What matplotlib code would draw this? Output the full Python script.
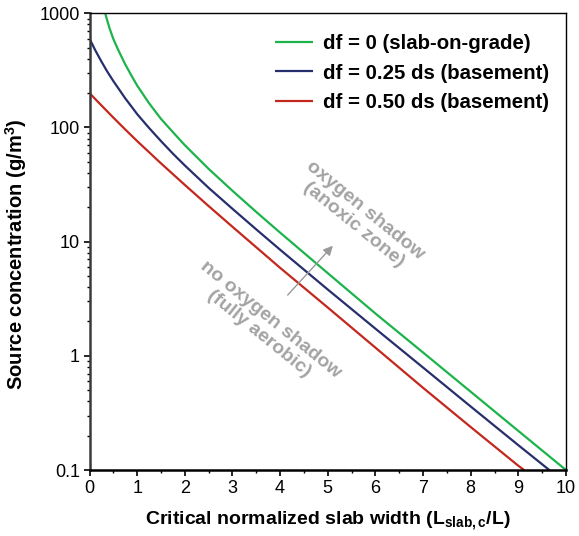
import numpy as np
import matplotlib
matplotlib.use("Agg")
import matplotlib.pyplot as plt
from matplotlib.ticker import FixedLocator, FixedFormatter, LogLocator, NullFormatter, MultipleLocator

plt.rcParams['font.family'] = ['Liberation Sans', 'DejaVu Sans']
plt.rcParams['mathtext.fontset'] = 'custom'
plt.rcParams['mathtext.rm'] = 'Liberation Sans'
plt.rcParams['mathtext.bf'] = 'Liberation Sans:bold'
plt.rcParams['mathtext.it'] = 'Liberation Sans:italic'

# ---- data ----
x_green = [0.33, 0.37, 0.42, 0.5, 0.6, 0.75, 0.9, 1.0, 1.25, 1.5, 1.75, 2.0, 2.5, 3.0, 3.5, 4.0, 5.0, 6.0, 7.0, 8.0, 9.0, 10.0]
c_green = [1000, 870, 740, 596, 480, 357, 275, 233, 163, 119, 91, 70, 43.4, 27.9, 18.2, 12.0, 5.3, 2.35, 1.07, 0.485, 0.22, 0.1]

x_blue = [0.0, 0.12, 0.25, 0.37, 0.5, 0.75, 1.0, 1.25, 1.5, 1.75, 2.0, 2.5, 3.0, 3.5, 4.0, 5.0, 6.0, 7.0, 8.0, 9.0, 9.65]
c_blue = [600, 475, 378, 310, 255, 180, 131, 99, 76, 59, 46.5, 29.6, 19.4, 12.8, 8.5, 3.81, 1.73, 0.79, 0.36, 0.165, 0.1]

x_red = [0.0, 0.25, 0.5, 0.75, 1.0, 1.5, 2.0, 2.5, 3.0, 4.0, 5.0, 6.0, 7.0, 8.0, 9.0, 9.12]
c_red = [200, 156, 122, 96, 76, 48.5, 31.4, 20.5, 13.5, 5.9, 2.65, 1.18, 0.525, 0.238, 0.109, 0.1]

labels = ["df = 0 (slab-on-grade)", "df = 0.25 ds (basement)", "df = 0.50 ds (basement)"]
colors = ["#1db34b", "#262f6e", "#c3271d"]

y_ticks = [0.1, 1, 10, 100, 1000]
y_tick_labels = ["0.1", "1", "10", "100", "1000"]
x_ticks = list(range(0, 11))

fig = plt.figure(figsize=(5.79, 5.36), dpi=100)
ax = fig.add_axes([0.1546, 0.1231, 0.9775 - 0.1546, 0.9752 - 0.1231])

for xs, cs, lab, col in zip([x_green, x_blue, x_red], [c_green, c_blue, c_red], labels, colors):
    ax.plot(xs, cs, color=col, lw=1.6, label=lab, solid_capstyle='butt', solid_joinstyle='round')

ax.set_yscale('log')
ax.set_xlim(0, 10)
ax.set_ylim(0.1, 1000)

ax.xaxis.set_major_locator(FixedLocator(x_ticks))
ax.xaxis.set_minor_locator(MultipleLocator(0.5))
ax.yaxis.set_major_locator(FixedLocator(y_ticks))
ax.yaxis.set_major_formatter(FixedFormatter(y_tick_labels))
ax.yaxis.set_minor_locator(LogLocator(base=10, subs=np.arange(2, 10)))
ax.yaxis.set_minor_formatter(NullFormatter())

ax.tick_params(axis='both', which='major', direction='out', length=4, width=1.2, labelsize=13, pad=3)
ax.tick_params(axis='both', which='minor', direction='out', length=2.5, width=1.0)

for s in ['top', 'right']:
    ax.spines[s].set_linewidth(1.0)
ax.spines['left'].set_linewidth(1.8)
ax.spines['left'].set_color('#3a3a3a')
ax.spines['bottom'].set_linewidth(1.8)

ax.set_xlabel(r"Critical normalized slab width (L$_{\mathbf{slab,c}}$/L)", fontsize=14, fontweight='bold', labelpad=9)
ax.set_ylabel(r"Source concentration (g/m$^{\mathbf{3}}$)", fontsize=14.5, fontweight='bold')
ax.yaxis.set_label_coords(-0.128, 0.473)

leg = ax.legend(loc='upper left', bbox_to_anchor=(0.389, 0.954), frameon=False,
                prop={'weight': 'bold', 'size': 14.7}, handlelength=1.85, handletextpad=0.5,
                labelspacing=0.5, borderpad=0, borderaxespad=0)

gray = '#a3a3a3'
ax.text(5.67, 16.3, "oxygen shadow\n(anoxic zone)", rotation=-39, ha='center', va='center',
        fontsize=14, fontweight='bold', color=gray, rotation_mode='anchor', linespacing=1.1)
ax.text(3.68, 1.81, "no oxygen shadow\n(fully aerobic)", rotation=-39, ha='center', va='center',
        fontsize=14, fontweight='bold', color=gray, rotation_mode='anchor', linespacing=1.1)
ax.annotate("", xy=(5.147, 9.6), xytext=(4.12, 3.27),
            arrowprops=dict(arrowstyle='-|>', color='#999999', lw=1.0, mutation_scale=14))

fig.savefig("out.png", dpi=100)
